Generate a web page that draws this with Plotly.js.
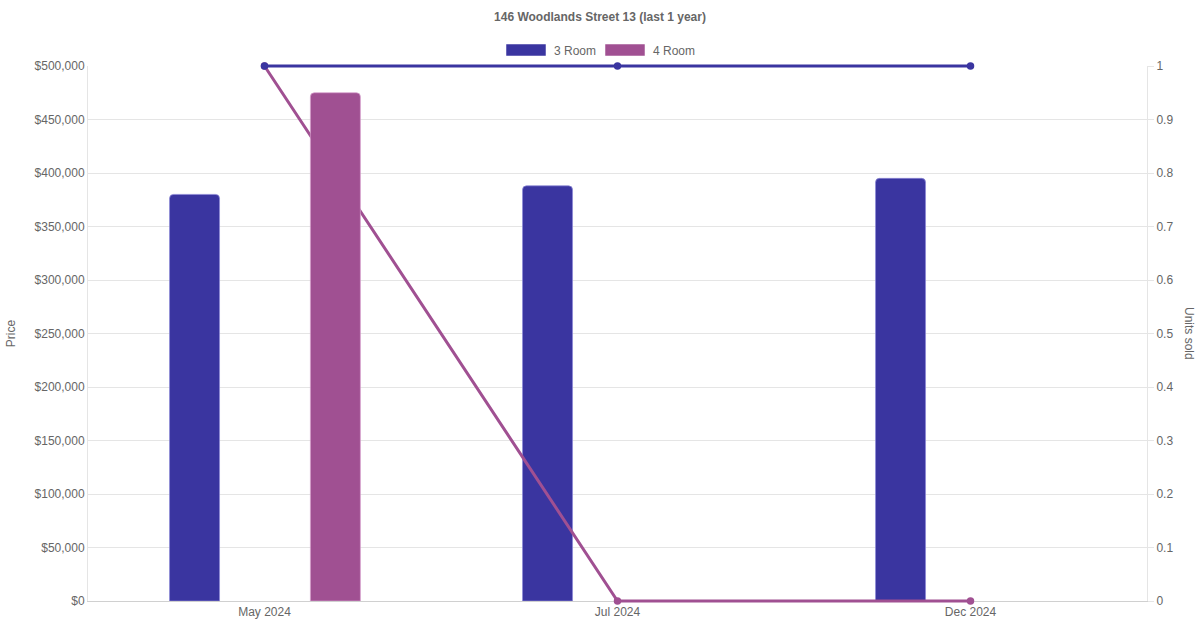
<!DOCTYPE html>
<html>
<head>
<meta charset="utf-8">
<script src="https://cdn.plot.ly/plotly-3.0.1.min.js"></script>
<style>html,body{margin:0;padding:0;background:#fff;}#chart{width:1200px;height:630px;}</style>
</head>
<body>
<div id="chart"></div>
<script>
const categories = ["May 2024", "Jul 2024", "Dec 2024"];
const seriesNames = ["3 Room", "4 Room"];
const price3Room = [380000, 388000, 395000];
const price4Room = [475000, null, null];
const units3Room = [1, 1, 1];
const units4Room = [1, 0, 0];
const colors = ["#3a35a0", "#a05092"];

const W = 1200, H = 630;
const M = {l: 88, r: 53, t: 66, b: 29};
const PW = W - M.l - M.r, PH = H - M.t - M.b;
const px = x => (x - M.l) / PW;
const py = y => (H - M.b - y) / PH;
const FONT = "Liberation Sans, Arial, Helvetica, sans-serif";
const GREY = "#666";
const BAR_W = 0.1416;

const traces = [
  // bottom layer: 3 Room bars
  {type: "bar", name: seriesNames[0], x: categories, y: price3Room, yaxis: "y",
   width: BAR_W, offset: -0.269,
   marker: {color: colors[0], cornerradius: 4, line: {color: "rgba(140,135,215,0.7)", width: 1}},
   showlegend: false},
  // middle layer: units sold lines
  {type: "scatter", mode: "lines+markers", name: seriesNames[1], x: categories, y: units4Room,
   yaxis: "y2", cliponaxis: false, line: {color: colors[1], width: 3}, marker: {size: 7.5, color: colors[1]},
   showlegend: false, hoverinfo: "skip"},
  {type: "scatter", mode: "lines+markers", name: seriesNames[0], x: categories, y: units3Room,
   yaxis: "y2", cliponaxis: false, line: {color: colors[0], width: 3}, marker: {size: 7.5, color: colors[0]},
   showlegend: false, hoverinfo: "skip"},
  // top layer: 4 Room bars
  {type: "bar", name: seriesNames[1], x: categories, y: price4Room, yaxis: "y3",
   width: BAR_W, offset: 0.130,
   marker: {color: colors[1], cornerradius: 4, line: {color: "rgba(215,160,205,0.7)", width: 1}},
   showlegend: false}
];

// custom legend (Chart.js style wide boxes)
const legendItems = [
  {box: [506, 546], text: 552},
  {box: [605, 645], text: 651}
];
const shapes = [];
const annotations = [];
legendItems.forEach((it, i) => {
  shapes.push({type: "rect", xref: "paper", yref: "paper",
    x0: px(it.box[0]), x1: px(it.box[1]), y0: py(56), y1: py(44),
    fillcolor: colors[i], line: {color: "rgba(255,255,255,0.5)", width: 1}});
  annotations.push({xref: "paper", yref: "paper", x: px(it.text), y: py(50.5),
    xanchor: "left", yanchor: "middle", showarrow: false, text: seriesNames[i],
    font: {family: FONT, size: 12, color: GREY}});
});
annotations.push({xref: "paper", yref: "paper", x: px(1189), y: py(333),
  xanchor: "center", yanchor: "middle", showarrow: false, text: "Units sold", textangle: 90,
  font: {family: FONT, size: 12, color: GREY}});

const priceRange = [0, 500000];

const layout = {
  width: W, height: H,
  margin: M,
  paper_bgcolor: "#fff", plot_bgcolor: "#fff",
  font: {family: FONT, size: 12, color: GREY},
  title: {text: "<b>146 Woodlands Street 13 (last 1 year)</b>", x: 0.5, xanchor: "center",
    y: 1 - 17 / H, yanchor: "middle", yref: "container", font: {family: FONT, size: 12, color: GREY}},
  barmode: "overlay",
  showlegend: false,
  xaxis: {type: "category", range: [-0.5, 2.5], showgrid: false, showline: true, layer: "below traces",
    linecolor: "#d0d0d0", linewidth: 1, ticks: "", tickfont: {size: 12, color: GREY},
    fixedrange: true, zeroline: false},
  yaxis: {range: priceRange, dtick: 50000, side: "left", layer: "below traces",
    tickprefix: "$", tickformat: ",d", showgrid: true, gridcolor: "#e5e5e5",
    showline: true, linecolor: "#e5e5e5", ticks: "", zeroline: false,
    tickfont: {size: 12, color: GREY},
    title: {text: "Price", standoff: 16, font: {size: 12, color: GREY}}},
  yaxis2: {range: [0, 1], dtick: 0.1, side: "right", overlaying: "y", showgrid: false, showline: true,
    layer: "below traces",
    linecolor: "#e5e5e5", ticks: "outside", ticklen: 6, tickcolor: "#e5e5e5",
    tickfont: {size: 12, color: GREY}, zeroline: false},
  yaxis3: {range: priceRange, overlaying: "y", visible: false, showgrid: false, zeroline: false},
  shapes: shapes,
  annotations: annotations
};

Plotly.newPlot("chart", traces, layout, {displayModeBar: false, staticPlot: true}).then(() => {
  // let the unit lines at 0 and 1 draw fully instead of being half-clipped at the plot edge
  document.querySelectorAll("#chart .scatterlayer [clip-path]").forEach(el => el.removeAttribute("clip-path"));
});
</script>
</body>
</html>
